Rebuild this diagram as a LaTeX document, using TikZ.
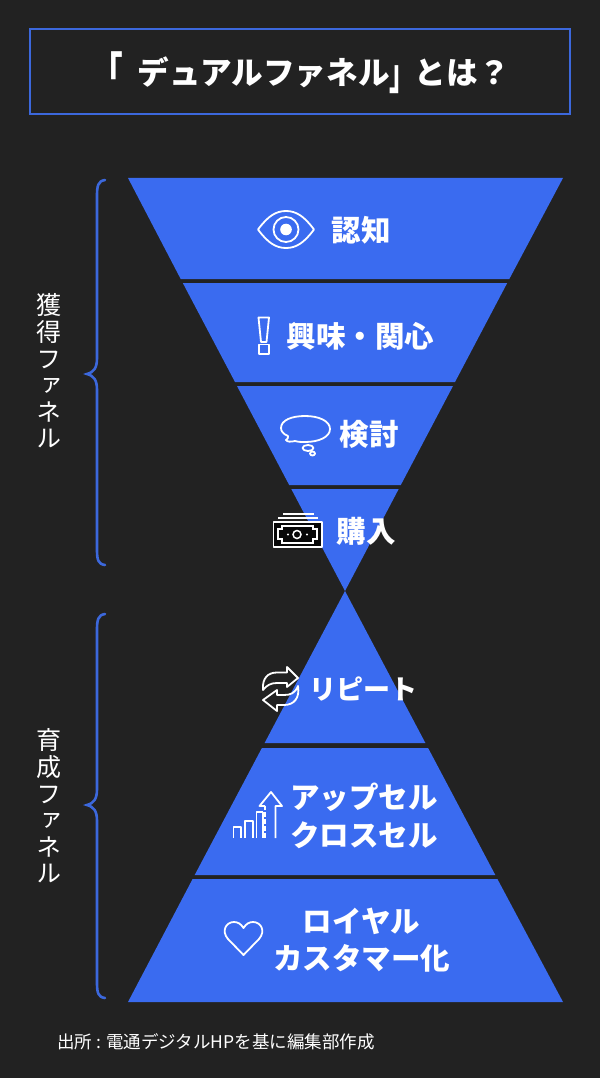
\documentclass[tikz,border=0pt]{standalone}
\usepackage{fontspec}
\setmainfont{Noto Sans CJK JP}
\newfontfamily\jpvert[RawFeature=+vert]{Noto Sans CJK JP}
\definecolor{bgdark}{HTML}{222222}
\definecolor{funnelblue}{HTML}{3A6BF0}
\definecolor{lineblue}{HTML}{3C68DC}
\tikzset{
% Text styles: band labels, side labels
band label/.style={text=white,inner sep=0,align=center,font=\fontsize{29.5}{37.5}\selectfont\bfseries},
side label/.style={text=white,inner sep=0,align=center,font=\fontsize{25}{26.6}\selectfont\jpvert},
band/.style={fill=funnelblue},
brace line/.style={lineblue,line width=2.6,line cap=round},
icon line/.style={draw=white,line width=1.8,line join=round}
}
\begin{document}
\begin{tikzpicture}[x=1pt,y=-1pt]
		% Background
		\fill[bgdark](0,0)rectangle(600,1078);
		\useasboundingbox(0,0)rectangle(600,1078);
		% Title
		\draw[lineblue,line width=2](29.5,29.5)rectangle(570,114);
		\node(title)[text=white,inner sep=0,anchor=west,font=\fontsize{31.6}{38}\selectfont\bfseries]at(91,73){\raisebox{-5pt}{\scalebox{1}[1.4]{「}}\kern15pt デュアルファネル\raisebox{-5pt}{\scalebox{.8}[1.4]{」}}とは？};
		% Upper funnel
		\fill[band](128,178)--(563,178)--(509.3,279)--(180.7,279)--cycle;
		\fill[band](182.8,283)--(507.2,283)--(455,382)--(235,382)--cycle;
		\fill[band](237,386)--(453,386)--(400.8,485)--(289.2,485)--cycle;
		\fill[band](291.3,489)--(398.7,489)--(345,591)--cycle;
		% Lower funnel
		\fill[band](345,591)--(425.4,743)--(264.6,743)--cycle;
		\fill[band](261.9,748)--(428.1,748)--(495.3,875)--(194.7,875)--cycle;
		\fill[band](192.6,879)--(497.4,879)--(563,1002)--(128,1002)--cycle;
		% Band labels
		\node(aware)[band label]at(361,230){認知};
		\node(interest)[band label]at(360.5,336){興味・関心};
		\node(consider)[band label]at(369,434){検討};
		\node(purchase)[band label]at(366,531){購入};
		\node(repeat)[band label,font=\fontsize{27}{34}\selectfont\bfseries]at(363.5,689){リピート};
		\node(upsell)[band label]at(364,816){アップセル\\クロスセル};
		\node(loyal)[band label]at(361.5,940){ロイヤル\\カスタマー化};
		% Braces
		\draw[brace line](105,180)..controls(98,181)and(97,186)..(97,196)--(97,358)..controls(97,368)and(94,372)..(87,374)..controls(94,376)and(97,380)..(97,390)--(97,549)..controls(97,560)and(98,564)..(105,565);
		\draw[brace line](105,614)..controls(98,615)and(97,620)..(97,630)--(97,789)..controls(97,799)and(94,803)..(87,805)..controls(94,807)and(97,811)..(97,821)--(97,982)..controls(97,993)and(98,997)..(105,998);
		% Side labels
		\node(acquire)[side label]at(49,371){獲\\得\\フ\\ァ\\ネ\\ル};
		\node(nurture)[side label]at(49,806){育\\成\\フ\\ァ\\ネ\\ル};
		% Eye
		\draw[icon line](258,229.5)..controls(268,216)and(276,211)..(286,211)..controls(296,211)and(304,216)..(314,229.5)..controls(304,243)and(296,248)..(286,248)..controls(276,248)and(268,243)..(258,229.5)--cycle;
		\draw[icon line](286,229.5)circle(12.5);
		\fill[white](286,229.5)circle(5.8);
		% Exclamation mark
		\draw[icon line](258.5,317.5)--(269,317.5)--(266.5,342)--(261,342)--cycle;
		\draw[icon line](259,344.5)rectangle(269,354);
		% Thought bubble
		\draw[icon line](281,428)..controls(281,420)and(292,416)..(305,416)..controls(319,416)and(330,421)..(330,429)..controls(330,437)and(319,442)..(305,442)..controls(302,442)and(298,442)..(295,441)..controls(291,442)and(287,442)..(286,440)..controls(288,439)and(288,438)..(288,436)..controls(283,434)and(281,431)..(281,428)--cycle;
		\draw[icon line](308,448)ellipse(5.5 and 3);
		\draw[icon line](312.5,453.5)ellipse(2.5 and 2);
		% Banknotes
		\draw[white,line width=1.5](283,514)--(314,514);
		\draw[white,line width=1.5](278,518)--(318,518);
		\fill[black!75!bgdark](273,521)rectangle(322,547);
		\draw[icon line](273.5,522)rectangle(322,547);
		\draw[white,line width=1.2](282,526)--(313,526)--(313,529)--(317,529)--(317,539)--(313,539)--(313,543)--(282,543)--(282,539)--(278,539)--(278,529)--(282,529)--cycle;
		\draw[white,line width=1.5](297,534.5)circle(4);
		\fill[white](288,534.5)circle(1.2);
		\fill[white](307,534.5)circle(1.2);
		% Repeat arrows
		\draw[icon line](287,672.5)--(287,667)--(298,678)--(287,687)--(287,683)--(277,683)..controls(271,683)and(267,685)..(263,690)..controls(262,678)and(268,672.5)..(277,672.5)--cycle;
		\draw[icon line](277,705)--(277,711)--(263,700)--(277,690)--(277,695)--(284,695)..controls(291,695)and(295,693)..(298,686)..controls(300,698)and(294,705)..(284,705)--cycle;
		% Growth chart
		\draw[icon line](233.5,838)--(233.5,827)--(241,827)--(241,838);
		\draw[icon line](245,838)--(245,821)--(253,821)--(253,838);
		\draw[icon line](256.5,838)--(256.5,812)--(263,812);
		\draw[icon line](263,812)--(263,838);
		\draw[icon line,dashed,dash pattern=on 5 off 2](265,838)--(265,806);
		\draw[icon line](275.5,838)--(275.5,806)--(282,806)--(271,792)--(259.5,806)--(265,806);
		% Heart
		\draw[icon line](243.5,955)--(228,939)..controls(221,931)and(226,922)..(234,922)..controls(238,922)and(241,924)..(243.5,928)..controls(246,924)and(249,922)..(253,922)..controls(261,922)and(266,931)..(259,939)--cycle;
		% Source
		\node(source)[text=white,inner sep=0,anchor=west,font=\fontsize{17.5}{20}\selectfont]at(57,1042){出所 : 電通デジタルHPを基に編集部作成};
	\end{tikzpicture}
\end{document}
